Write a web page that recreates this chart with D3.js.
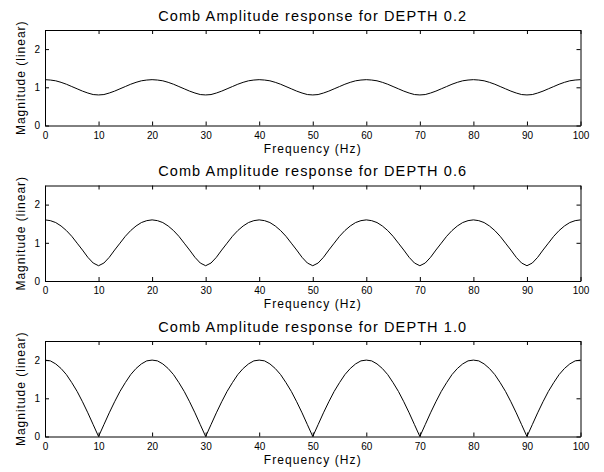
<!DOCTYPE html>
<html>
<head>
<meta charset="utf-8">
<script src="https://cdn.jsdelivr.net/npm/d3@7"></script>
<style>
  body { margin: 0; background: #fff; }
  text { font-family: "Liberation Sans", Arial, Helvetica, sans-serif; fill: #000; }
</style>
</head>
<body>
<svg id="chart" width="604" height="472"></svg>
<script>

// frequency samples (Hz)
var freqHz = [
	0, 1, 2, 3, 4, 5, 6, 7, 8, 9, 10, 11, 12, 13, 14, 15, 16, 17, 18, 19,
	20, 21, 22, 23, 24, 25, 26, 27, 28, 29, 30, 31, 32, 33, 34, 35, 36, 37, 38, 39,
	40, 41, 42, 43, 44, 45, 46, 47, 48, 49, 50, 51, 52, 53, 54, 55, 56, 57, 58, 59,
	60, 61, 62, 63, 64, 65, 66, 67, 68, 69, 70, 71, 72, 73, 74, 75, 76, 77, 78, 79,
	80, 81, 82, 83, 84, 85, 86, 87, 88, 89, 90, 91, 92, 93, 94, 95, 96, 97, 98, 99,
	100
]

// magnitude
var magDepth02 = [
	1.20, 1.19, 1.17, 1.13, 1.08, 1.02, 0.96, 0.90, 0.85, 0.81, 0.80, 0.81, 0.85, 0.90, 0.96, 1.02, 1.08, 1.13, 1.17, 1.19,
	1.20, 1.19, 1.17, 1.13, 1.08, 1.02, 0.96, 0.90, 0.85, 0.81, 0.80, 0.81, 0.85, 0.90, 0.96, 1.02, 1.08, 1.13, 1.17, 1.19,
	1.20, 1.19, 1.17, 1.13, 1.08, 1.02, 0.96, 0.90, 0.85, 0.81, 0.80, 0.81, 0.85, 0.90, 0.96, 1.02, 1.08, 1.13, 1.17, 1.19,
	1.20, 1.19, 1.17, 1.13, 1.08, 1.02, 0.96, 0.90, 0.85, 0.81, 0.80, 0.81, 0.85, 0.90, 0.96, 1.02, 1.08, 1.13, 1.17, 1.19,
	1.20, 1.19, 1.17, 1.13, 1.08, 1.02, 0.96, 0.90, 0.85, 0.81, 0.80, 0.81, 0.85, 0.90, 0.96, 1.02, 1.08, 1.13, 1.17, 1.19,
	1.20
]

var magDepth06 = [
	1.60, 1.58, 1.53, 1.44, 1.32, 1.17, 0.99, 0.81, 0.62, 0.47, 0.40, 0.47, 0.62, 0.81, 0.99, 1.17, 1.32, 1.44, 1.53, 1.58,
	1.60, 1.58, 1.53, 1.44, 1.32, 1.17, 0.99, 0.81, 0.62, 0.47, 0.40, 0.47, 0.62, 0.81, 0.99, 1.17, 1.32, 1.44, 1.53, 1.58,
	1.60, 1.58, 1.53, 1.44, 1.32, 1.17, 0.99, 0.81, 0.62, 0.47, 0.40, 0.47, 0.62, 0.81, 0.99, 1.17, 1.32, 1.44, 1.53, 1.58,
	1.60, 1.58, 1.53, 1.44, 1.32, 1.17, 0.99, 0.81, 0.62, 0.47, 0.40, 0.47, 0.62, 0.81, 0.99, 1.17, 1.32, 1.44, 1.53, 1.58,
	1.60, 1.58, 1.53, 1.44, 1.32, 1.17, 0.99, 0.81, 0.62, 0.47, 0.40, 0.47, 0.62, 0.81, 0.99, 1.17, 1.32, 1.44, 1.53, 1.58,
	1.60
]

var magDepth10 = [
	2.00, 1.98, 1.90, 1.78, 1.62, 1.41, 1.18, 0.91, 0.62, 0.31, 0.00, 0.31, 0.62, 0.91, 1.18, 1.41, 1.62, 1.78, 1.90, 1.98,
	2.00, 1.98, 1.90, 1.78, 1.62, 1.41, 1.18, 0.91, 0.62, 0.31, 0.00, 0.31, 0.62, 0.91, 1.18, 1.41, 1.62, 1.78, 1.90, 1.98,
	2.00, 1.98, 1.90, 1.78, 1.62, 1.41, 1.18, 0.91, 0.62, 0.31, 0.00, 0.31, 0.62, 0.91, 1.18, 1.41, 1.62, 1.78, 1.90, 1.98,
	2.00, 1.98, 1.90, 1.78, 1.62, 1.41, 1.18, 0.91, 0.62, 0.31, 0.00, 0.31, 0.62, 0.91, 1.18, 1.41, 1.62, 1.78, 1.90, 1.98,
	2.00, 1.98, 1.90, 1.78, 1.62, 1.41, 1.18, 0.91, 0.62, 0.31, 0.00, 0.31, 0.62, 0.91, 1.18, 1.41, 1.62, 1.78, 1.90, 1.98,
	2.00
]

var panelTitles = [
	"Comb Amplitude response for DEPTH 0.2",
	"Comb Amplitude response for DEPTH 0.6",
	"Comb Amplitude response for DEPTH 1.0"
]
var xTicks = [0, 10, 20, 30, 40, 50, 60, 70, 80, 90, 100]
var yTicks = [0, 1, 2]
var xLabel = "Frequency (Hz)"
var yLabel = "Magnitude (linear)"

var svg = d3.select("#chart")

var left = 45, right = 580.5
var panelH = 95.5
var panelTops = [30, 185.5, 341]
var series = [magDepth02, magDepth06, magDepth10]

var x = d3.scaleLinear().domain([0, 100]).range([left, right])

panelTitles.forEach(function (title, i) {
	var top = panelTops[i]
	var bottom = top + panelH
	var y = d3.scaleLinear().domain([0, 2.5]).range([bottom, top])

	var g = svg.append("g")

	// box with inward ticks on all four sides
	g.append("g")
		.attr("transform", "translate(0," + bottom + ")")
		.call(d3.axisBottom(x).tickValues(xTicks).tickSizeInner(-4).tickSizeOuter(0).tickPadding(6).tickFormat(d3.format("d")))
	g.append("g")
		.attr("transform", "translate(0," + top + ")")
		.call(d3.axisTop(x).tickValues(xTicks).tickSizeInner(-4).tickSizeOuter(0).tickFormat(""))
	g.append("g")
		.attr("transform", "translate(" + left + ",0)")
		.call(d3.axisLeft(y).tickValues(yTicks).tickSizeInner(-4).tickSizeOuter(0).tickPadding(5).tickFormat(d3.format("d")))
	g.append("g")
		.attr("transform", "translate(" + right + ",0)")
		.call(d3.axisRight(y).tickValues(yTicks).tickSizeInner(-4).tickSizeOuter(0).tickFormat(""))

	g.selectAll(".domain").attr("stroke", "#000").attr("stroke-width", 1)
	g.selectAll(".tick line").attr("stroke", "#000")
	g.selectAll(".tick text")
		.style("font-family", "'Liberation Sans', Arial, sans-serif")
		.style("font-size", "10px")
		.attr("fill", "#000")

	var line = d3.line()
		.x(function (d, j) { return x(freqHz[j]) })
		.y(function (d) { return y(d) })

	g.append("path")
		.datum(series[i])
		.attr("d", line)
		.attr("fill", "none")
		.attr("stroke", "#000")
		.attr("stroke-width", 1)

	g.append("text")
		.attr("x", (left + right) / 2)
		.attr("y", top - 9.5)
		.attr("text-anchor", "middle")
		.style("font-size", "14.5px")
		.style("letter-spacing", "1.1px")
		.text(title)

	g.append("text")
		.attr("x", (left + right) / 2)
		.attr("y", bottom + 27)
		.attr("text-anchor", "middle")
		.style("font-size", "12px")
		.style("letter-spacing", "1.1px")
		.text(xLabel)

	g.append("text")
		.attr("transform", "translate(25," + (top + bottom) / 2 + ") rotate(-90)")
		.attr("text-anchor", "middle")
		.style("font-size", "12px")
		.style("letter-spacing", "1px")
		.text(yLabel)
})

</script>
</body>
</html>
